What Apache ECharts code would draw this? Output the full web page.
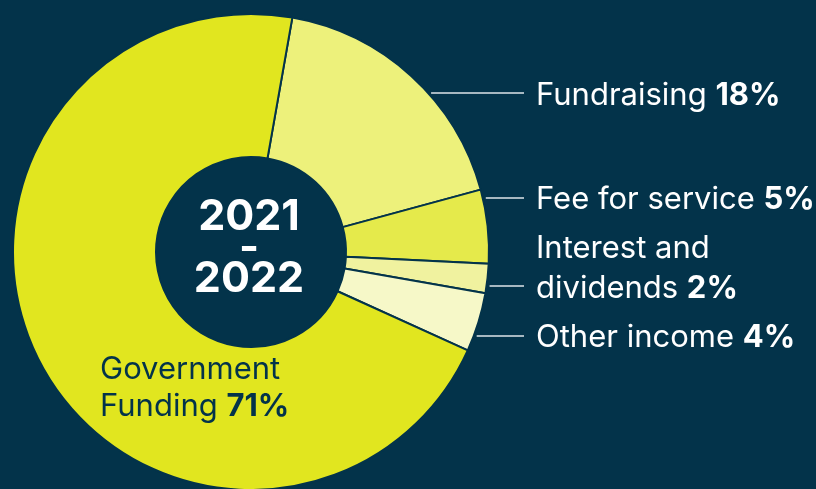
<!DOCTYPE html>
<html>
<head>
<meta charset="utf-8">
<script src="https://cdn.jsdelivr.net/npm/echarts@6/dist/echarts.min.js"></script>
<style>
  html, body { margin: 0; padding: 0; background: #03334a; }
  #chart { width: 816px; height: 489px; }
</style>
</head>
<body>
<div id="chart"></div>
<script>
const categories = ['Fundraising', 'Fee for service', 'Interest and\ndividends', 'Other income', 'Government\nFunding']
const shares = [18, 5, 2, 4, 71]
const sliceColors = ['#edf17b', '#e5ea4b', '#f0f29f', '#f6f8c8', '#e1e61f']
const periodLabel = '2021\n-\n2022'

// label placement (pixels)
const labelX = 536
const labelY = [96, 200, 269, 338, 388]
const lineY = [93, 198, 286, 336, null]
const pieCenter = [251, 252]
const outerR = 238

const bg = '#03334a'
const font = 'Inter'
const fs = 31

const chart = echarts.init(document.getElementById('chart'))

function edgeX(y) {
  const dy = y - pieCenter[1]
  return pieCenter[0] + Math.sqrt(outerR * outerR - dy * dy) + 3
}

const option = {
  backgroundColor: bg,
  animation: false,
  graphic: [
    {
      type: 'text',
      x: 249,
      y: 248,
      style: {
        text: periodLabel,
        fill: '#ffffff',
        fontFamily: font,
        fontWeight: 'bold',
        fontSize: 43,
        lineHeight: 31,
        align: 'center',
        verticalAlign: 'middle'
      }
    }
  ],
  series: [
    {
      type: 'pie',
      center: pieCenter,
      radius: [95, outerR],
      startAngle: 80,
      clockwise: true,
      avoidLabelOverlap: false,
      itemStyle: {
        borderColor: bg,
        borderWidth: 2
      },
      emphasis: { disabled: true },
      label: {
        show: true,
        position: 'outside',
        formatter: (p) => `{n|${p.name} }{v|${p.value}%}`,
        rich: {
          n: { fontFamily: font, fontSize: fs, color: '#ffffff', lineHeight: 40 },
          v: { fontFamily: font, fontSize: fs, fontWeight: 'bold', color: '#ffffff', lineHeight: 40 }
        }
      },
      labelLine: {
        show: true,
        lineStyle: { color: '#dfe6ea', width: 1.5 }
      },
      labelLayout: (params) => {
        const i = params.dataIndex
        if (i === categories.length - 1) {
          return { x: 100, y: labelY[i], align: 'left', verticalAlign: 'middle' }
        }
        const y = lineY[i]
        return {
          x: labelX,
          y: labelY[i],
          align: 'left',
          verticalAlign: 'middle',
          labelLinePoints: [[edgeX(y), y], [edgeX(y), y], [labelX - 12, y]]
        }
      },
      data: categories.map((name, i) => {
        const item = {
          name: name,
          value: shares[i],
          itemStyle: { color: sliceColors[i] }
        }
        if (i === categories.length - 1) {
          item.label = {
            rich: {
              n: { fontFamily: font, fontSize: fs, color: bg, lineHeight: 37 },
              v: { fontFamily: font, fontSize: fs, fontWeight: 'bold', color: bg, lineHeight: 37 }
            }
          }
          item.labelLine = { show: false }
        }
        return item
      })
    }
  ]
}

chart.setOption(option)
</script>
</body>
</html>
